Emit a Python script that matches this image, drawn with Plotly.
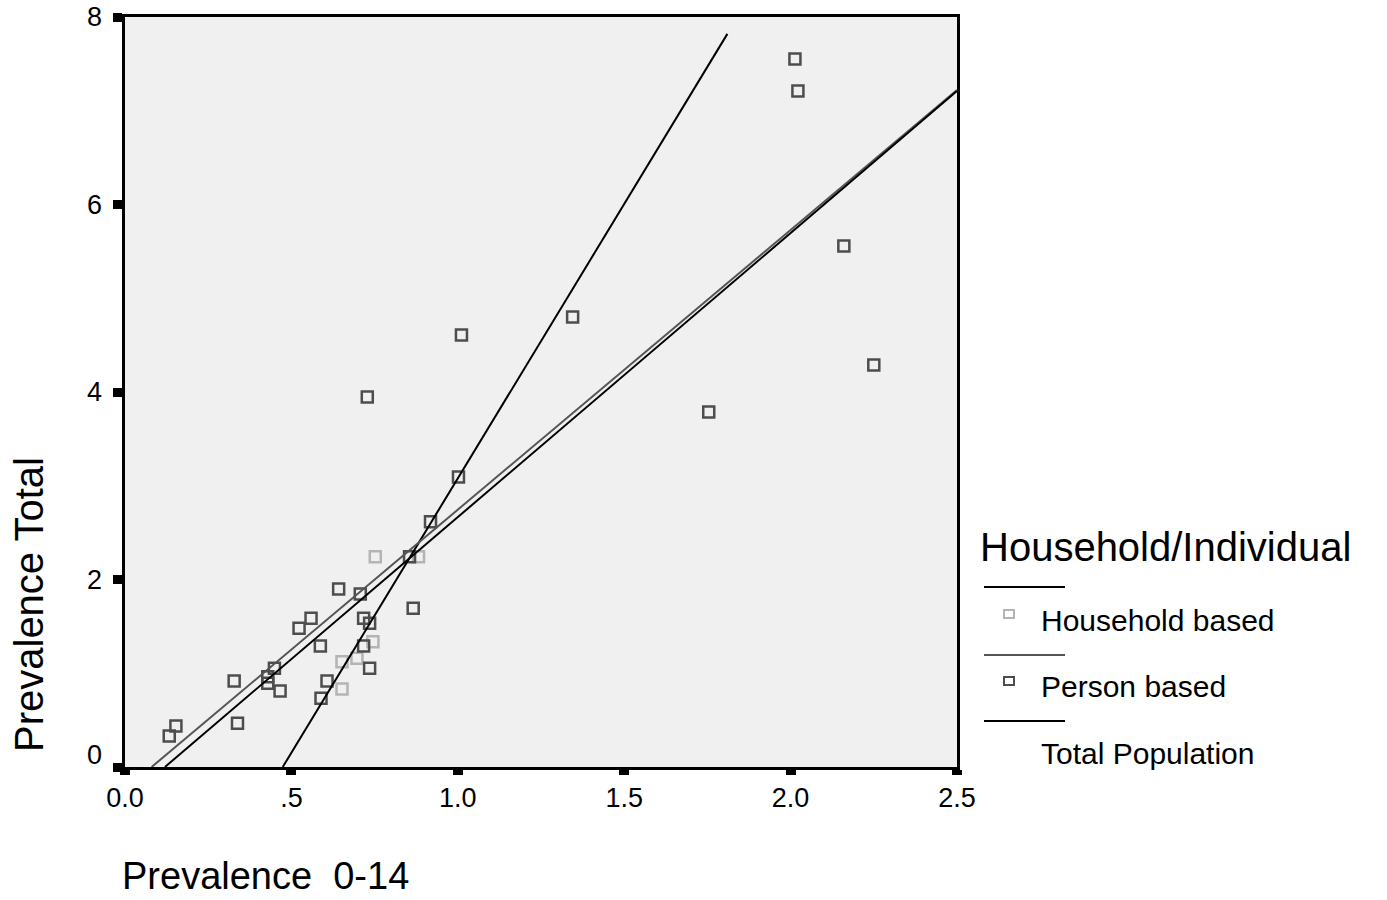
import plotly.graph_objects as go

# Prevalence among 0-14 year olds vs. total prevalence, by survey type
household_x = [0.752, 0.882, 0.745, 0.652, 0.697, 0.652]
household_y = [2.243, 2.243, 1.337, 1.124, 1.159, 0.832]

person_x = [2.013, 2.022, 2.160, 2.250, 1.754, 1.345, 1.011, 0.728, 1.002, 0.918,
            0.855, 0.642, 0.707, 0.866, 0.559, 0.523, 0.717, 0.735, 0.587, 0.717,
            0.735, 0.449, 0.429, 0.429, 0.328, 0.607, 0.466, 0.589, 0.338, 0.153,
            0.133]
person_y = [7.552, 7.211, 5.557, 4.288, 3.787, 4.800, 4.608, 3.947, 3.093, 2.617,
            2.243, 1.899, 1.845, 1.693, 1.586, 1.479, 1.586, 1.533, 1.291, 1.291,
            1.053, 1.053, 0.963, 0.893, 0.917, 0.917, 0.811, 0.733, 0.466, 0.437,
            0.331]

# Fit lines (end points)
household_fit_x = [0.474, 1.810]
household_fit_y = [0.0, 7.82]
person_fit_x = [0.080, 2.50]
person_fit_y = [0.0, 7.22]
total_fit_x = [0.120, 2.50]
total_fit_y = [0.0, 7.21]

x_tick_vals = [0.0, 0.5, 1.0, 1.5, 2.0, 2.5]
x_tick_text = ["0.0", ".5", "1.0", "1.5", "2.0", "2.5"]
y_tick_vals = [0, 2, 4, 6, 8]
y_tick_text = ["0", "2", "4", "6", "8"]

group_title = "Household/Individual"
group_names = ["Household based", "Person based", "Total Population"]

FONT = "Liberation Sans, Arial, sans-serif"
LIGHT = "#b4b4b4"
DARK = "#4d4d4d"
GRAY_LINE = "#555555"

W, H = 1387, 900
L, R, T, B = 125, 957, 17, 767  # plot area in pixels


def px(x):
    return (x - L) / (R - L)


def py(y):
    return (B - y) / (B - T)


fig = go.Figure()

fig.add_trace(go.Scatter(
    x=household_x, y=household_y, mode="markers",
    marker=dict(symbol="square-open", size=11, color=LIGHT, line=dict(width=2.5, color=LIGHT)),
    showlegend=False, cliponaxis=False))
fig.add_trace(go.Scatter(
    x=person_x, y=person_y, mode="markers",
    marker=dict(symbol="square-open", size=11, color=DARK, line=dict(width=2.5, color=DARK)),
    showlegend=False, cliponaxis=False))

fig.add_trace(go.Scatter(x=household_fit_x, y=household_fit_y, mode="lines",
                         line=dict(color="black", width=2), showlegend=False))
fig.add_trace(go.Scatter(x=person_fit_x, y=person_fit_y, mode="lines",
                         line=dict(color=GRAY_LINE, width=2), showlegend=False))
fig.add_trace(go.Scatter(x=total_fit_x, y=total_fit_y, mode="lines",
                         line=dict(color="black", width=2), showlegend=False))

fig.update_xaxes(
    range=[0, 2.5], tickvals=x_tick_vals, ticktext=x_tick_text,
    ticks="outside", ticklen=5, tickwidth=10, tickcolor="black",
    showline=True, linecolor="black", linewidth=2.5, mirror=True,
    showgrid=False, zeroline=False, automargin=False,
    tickfont=dict(family=FONT, size=27, color="black"),
)
fig.update_yaxes(
    range=[0, 8], tickvals=y_tick_vals, ticktext=y_tick_text,
    ticks="outside", ticklen=9, tickwidth=9, tickcolor="black",
    showline=True, linecolor="black", linewidth=2.5, mirror=True,
    showgrid=False, zeroline=False, showticklabels=False, automargin=False,
)

annotations = []
# y tick labels; the bottom one sits a little above its tick
for val, txt in zip(y_tick_vals, y_tick_text):
    annotations.append(dict(text=txt, x=px(104), y=val, xref="paper", yref="y",
                            showarrow=False, xanchor="right", yanchor="middle",
                            yshift=12 if val == 0 else 0,
                            font=dict(family=FONT, size=27, color="black")))

annotations += [
    dict(text="Prevalence Total", x=px(29), y=py(605), xref="paper", yref="paper",
         textangle=-90, showarrow=False, xanchor="center", yanchor="middle",
         font=dict(family=FONT, size=40, color="black")),
    dict(text="Prevalence\u00a0\u00a00-14", x=px(120), y=py(899), xref="paper", yref="paper",
         showarrow=False, xanchor="left", yanchor="bottom",
         font=dict(family=FONT, size=38, color="black")),
    dict(text=group_title, x=px(978), y=py(547), xref="paper", yref="paper",
         showarrow=False, xanchor="left", yanchor="middle",
         font=dict(family=FONT, size=40, color="black")),
]
for name, ycen in zip(group_names, [620, 686, 753]):
    annotations.append(dict(text=name, x=px(1039), y=py(ycen), xref="paper", yref="paper",
                            showarrow=False, xanchor="left", yanchor="middle",
                            font=dict(family=FONT, size=30, color="black")))

shapes = []
# legend line samples
for ly, col in zip([587, 655, 721], ["black", GRAY_LINE, "black"]):
    shapes.append(dict(type="line", xref="paper", yref="paper",
                       x0=px(984), x1=px(1065), y0=py(ly), y1=py(ly),
                       line=dict(color=col, width=2)))
# legend marker samples
for (cx, cy), col in zip([(1009, 614), (1009, 681)], [LIGHT, DARK]):
    shapes.append(dict(type="rect", xref="paper", yref="paper",
                       x0=px(cx - 5), x1=px(cx + 5), y0=py(cy + 4), y1=py(cy - 4),
                       line=dict(color=col, width=2), fillcolor="rgba(0,0,0,0)"))

fig.update_layout(
    width=W, height=H,
    margin=dict(l=L, r=W - R, t=T, b=H - B, pad=0, autoexpand=False),
    plot_bgcolor="#f0f0f0", paper_bgcolor="white",
    annotations=annotations, shapes=shapes,
    font=dict(family=FONT, color="black"),
)

fig.write_html("out.html")
